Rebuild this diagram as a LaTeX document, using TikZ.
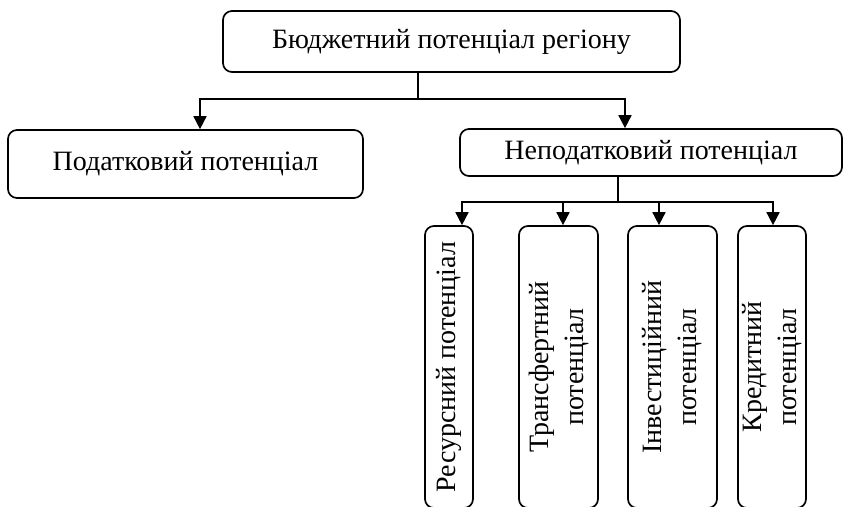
\documentclass[tikz,border=0pt]{standalone}
\usepackage{fontspec}
\setmainfont{Liberation Serif}
\usetikzlibrary{arrows.meta}

\begin{document}
\begin{tikzpicture}
      [x=1pt, y=-1pt, line width=1.7pt,
       box/.style={draw, rounded corners=9pt, inner sep=0pt, align=center,
         font=\fontsize{28}{35}\selectfont},
       vbox/.style={box, rotate=90, minimum width=282pt},
       arr/.style={-{Triangle[width=13pt,length=13pt]}}]
      \useasboundingbox (0,0) rectangle (843,506);
      \clip (0,0) rectangle (843,506);

      \node[box, minimum width=457pt, minimum height=61pt](top) at (451.5, 41.5) {Бюджетний потенціал регіону};
      \node[box, minimum width=355pt, minimum height=68pt](pod) at (185.5, 164) {Податковий потенціал};
      \node[box, minimum width=382pt, minimum height=47pt](nepod) at (651, 152.5) {Неподатковий потенціал};

      \node[vbox, minimum height=48pt](res) at (449, 367) {Ресурсний потенціал};
      \node[vbox, minimum height=79pt](tra) at (558.5, 367) {Трансфертний\\потенціал};
      \node[vbox, minimum height=89pt](inv) at (672.5, 367) {Інвестиційний\\потенціал};
      \node[vbox, minimum height=68pt](kre) at (772, 367) {Кредитний\\потенціал};

      \coordinate(b1) at (418, 99);
      \draw(top.south -| b1) -- (b1);
      \draw[arr](b1) -| ([xshift=14.5pt]pod.north);
      \draw[arr](b1) -| ([xshift=-26pt]nepod.north);

      \coordinate(b2) at (618, 202);
      \draw(nepod.south -| b2) -- (b2);
      \draw[arr](b2) -| ([xshift=13pt]res.east);
      \draw[arr](b2) -| ([xshift=4.5pt]tra.east);
      \draw[arr](b2) -| ([xshift=-13.5pt]inv.east);
      \draw[arr](b2) -| ([xshift=1pt]kre.east);
  \end{tikzpicture}
\end{document}
